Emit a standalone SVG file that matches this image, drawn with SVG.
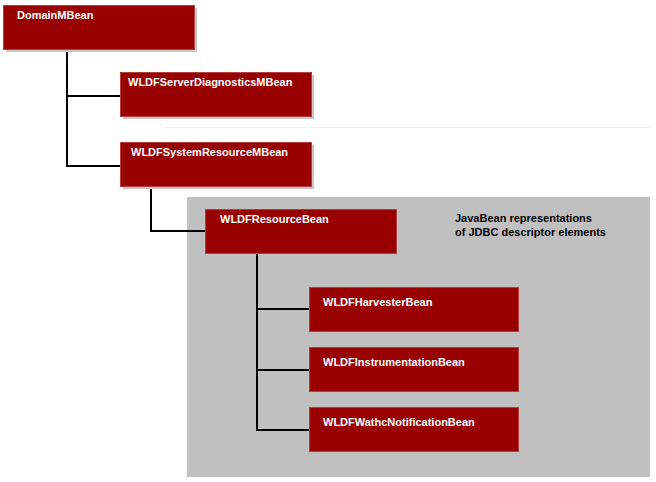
<svg xmlns="http://www.w3.org/2000/svg" width="656" height="482" viewBox="0 0 656 482">
<defs><style>
.box{fill:#990000;stroke:#b04040;stroke-width:1}
.sh{fill:#c8c8c8}
.lbl{font-family:"Liberation Sans",Arial,sans-serif;font-size:11px;font-weight:bold;fill:#ffffff}
.note{font-family:"Liberation Sans",Arial,sans-serif;font-size:11px;font-weight:bold;fill:#000000}
.c{stroke:#000;stroke-width:2;fill:none}
</style></defs>
<rect width="656" height="482" fill="#fff"/>
<line x1="165" y1="127.5" x2="650" y2="127.5" stroke="#eeeeee" stroke-width="1"/>
<rect id="group" x="187" y="197" width="463" height="280" fill="#c0c0c0"/>
<text class="note" x="455" y="222">JavaBean representations</text>
<text class="note" x="455" y="236">of JDBC descriptor elements</text>
<g id="connectors">
<path class="c" d="M67 47V166H120M67 96H120"/>
<path class="c" d="M151 181V231H205"/>
<path class="c" d="M257 253V430H310M257 309H310M257 370H310"/>
</g>
<g id="DomainMBean"><rect class="sh" x="6" y="8" width="191" height="44"/><rect class="box" x="3.5" y="5.5" width="191" height="44"/><text class="lbl" x="17" y="19">DomainMBean</text></g>
<g id="WLDFServerDiagnosticsMBean"><rect class="sh" x="123" y="75" width="191" height="44"/><rect class="box" x="120.5" y="72.5" width="191" height="44"/><text class="lbl" x="128" y="86">WLDFServerDiagnosticsMBean</text></g>
<g id="WLDFSystemResourceMBean"><rect class="sh" x="123" y="145" width="191" height="44"/><rect class="box" x="120.5" y="142.5" width="191" height="44"/><text class="lbl" x="131" y="156">WLDFSystemResourceMBean</text></g>
<g id="WLDFResourceBean"><rect class="box" x="205.5" y="209.5" width="191" height="44"/><text class="lbl" x="220" y="223">WLDFResourceBean</text></g>
<g id="WLDFHarvesterBean"><rect class="box" x="309.5" y="287.5" width="209" height="44"/><text class="lbl" x="323" y="306">WLDFHarvesterBean</text></g>
<g id="WLDFInstrumentationBean"><rect class="box" x="309.5" y="347.5" width="209" height="44"/><text class="lbl" x="323" y="366">WLDFInstrumentationBean</text></g>
<g id="WLDFWathcNotificationBean"><rect class="box" x="309.5" y="407.5" width="209" height="44"/><text class="lbl" x="323" y="426">WLDFWathcNotificationBean</text></g>
</svg>
